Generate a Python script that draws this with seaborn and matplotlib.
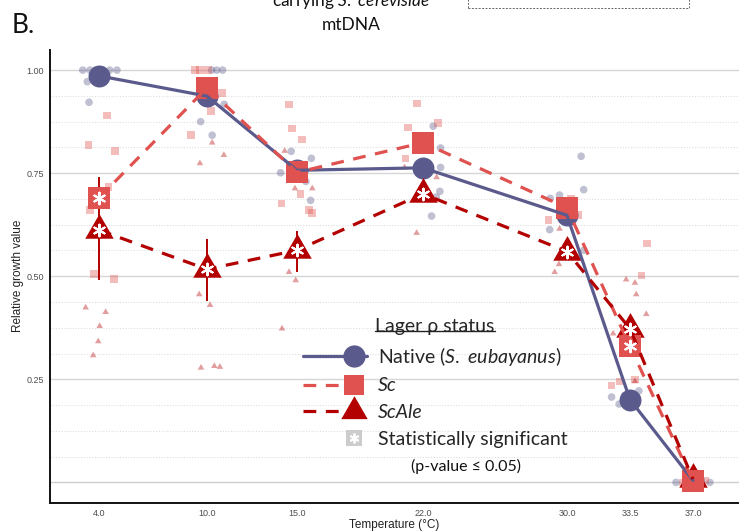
import numpy as np
import pandas as pd
import matplotlib
matplotlib.use("Agg")
import matplotlib.pyplot as plt
import seaborn as sns
from matplotlib.lines import Line2D
from matplotlib.patches import Rectangle
from matplotlib.legend_handler import HandlerLine2D

# ---------------- data ----------------
temps = [4.0, 10.0, 15.0, 22.0, 30.0, 33.5, 37.0]
tick_labels = ["4.0", "10.0", "15.0", "22.0", "30.0", "33.5", "37.0"]
y_ticks = [0.25, 0.50, 0.75, 1.00]
y_tick_labels = ["0.25", "0.50", "0.75", "1.00"]

native_mean = [0.986, 0.937, 0.757, 0.763, 0.648, 0.201, 0.005]
sc_mean = [0.690, 0.957, 0.752, 0.824, 0.666, 0.330, 0.003]
scale_mean = [0.612, 0.517, 0.563, 0.700, 0.560, 0.373, 0.008]
sc_sig = [True, False, False, False, False, True, False]
scale_sig = [True, True, True, True, True, True, False]
scale_err_lo = [0.49, 0.44, 0.51, 0.68, 0.545, 0.35, 0.0]
scale_err_hi = [0.74, 0.59, 0.61, 0.72, 0.575, 0.40, 0.015]

native_pts_x = [3.1, 3.5, 3.8, 4.2, 4.6, 5.0, 3.35, 3.45,
                10.26, 10.54, 10.87, 10.96, 9.65, 10.29,
                14.68, 15.8, 14.09, 15.76, 15.5,
                22.57, 22.98, 22.98, 22.94, 22.74, 22.48,
                30.79, 30.93, 29.59, 29.07, 29.04, 30.94,
                32.48, 34.0, 33.85, 33.2, 32.9,
                36.06, 37.94, 36.6, 37.4]
native_pts_y = [1.0, 1.0, 1.0, 1.0, 1.0, 1.0, 0.972, 0.922,
                1.0, 1.0, 1.0, 0.917, 0.875, 0.842,
                0.803, 0.786, 0.751, 0.684, 0.73,
                0.864, 0.811, 0.764, 0.706, 0.692, 0.646,
                0.791, 0.71, 0.697, 0.689, 0.613, 0.563,
                0.207, 0.222, 0.198, 0.21, 0.19,
                0.0, 0.0, 0.003, 0.0]
sc_pts_x = [4.43, 3.41, 4.89, 4.52, 3.5, 3.72, 4.85,
            9.33, 9.61, 10.07, 10.85, 10.22, 9.11,
            14.57, 14.74, 15.28, 14.15, 15.2, 15.67, 15.85,
            21.68, 21.17, 22.83, 21.04,
            28.98, 30.24, 30.61,
            34.46, 34.15, 32.48, 32.93, 33.78,
            36.44, 37.39, 37.67]
sc_pts_y = [0.89, 0.818, 0.804, 0.717, 0.66, 0.505, 0.493,
            1.0, 1.0, 1.0, 0.945, 0.901, 0.842,
            0.917, 0.858, 0.832, 0.676, 0.699, 0.66, 0.653,
            0.919, 0.861, 0.871, 0.786,
            0.636, 0.689, 0.648,
            0.579, 0.502, 0.235, 0.245, 0.25,
            0.0, 0.0, 0.005]
scale_pts_x = [3.26, 4.37, 4.04, 3.96, 3.68,
               10.29, 9.61, 10.94, 9.57, 10.17, 9.67, 10.41, 10.72,
               14.32, 14.89, 15.85, 14.17, 14.56, 14.93,
               22.76, 20.98, 21.65,
               29.59, 29.56, 29.32,
               33.29, 33.78, 33.85, 34.41, 32.57, 33.78,
               37.0, 37.33]
scale_pts_y = [0.424, 0.413, 0.379, 0.342, 0.308,
               0.824, 0.774, 0.794, 0.456, 0.43, 0.278, 0.282, 0.28,
               0.804, 0.713, 0.713, 0.373, 0.51, 0.49,
               0.74, 0.764, 0.605,
               0.615, 0.529, 0.51,
               0.492, 0.484, 0.456, 0.408, 0.361, 0.245,
               0.01, 0.02]

# ---------------- style ----------------
NATIVE_C = "#5b5a8c"
SC_C = "#e0524f"
SCALE_C = "#b30000"
TRI = [(0, 0.577), (-0.5, -0.289), (0.5, -0.289)]
DASH = (0, (4, 3))

sns.set_theme(style="white")
plt.rcParams["font.family"] = ["Lato", "DejaVu Sans"]
plt.rcParams["mathtext.fontset"] = "custom"
plt.rcParams["mathtext.it"] = "Lato:italic"
plt.rcParams["mathtext.rm"] = "Lato"

fig = plt.figure(figsize=(7.39, 5.31), dpi=100)
ax = fig.add_axes([50 / 739, 28 / 531, 689 / 739, 453.5 / 531])
ax.set_xlim(1.28, 39.56)
ax.set_ylim(-0.05, 1.05)

# grid
ax.set_yticks(y_ticks)
ax.set_yticklabels(y_tick_labels)
ax.set_yticks(np.arange(0, 1.01, 0.0625), minor=True)
ax.yaxis.grid(True, which="minor", color="#dedede", lw=0.8, ls=(0, (1, 1.5)), zorder=0)
ax.yaxis.grid(True, which="major", color="#d6d6d6", lw=1.0, zorder=0)
ax.axhline(0, color="#c8c8c8", lw=1.0, zorder=0)
ax.set_axisbelow(True)
ax.tick_params(axis="y", which="minor", length=0)

ax.set_xticks(temps)
ax.set_xticklabels(tick_labels)

tick_family = ["Liberation Sans", "DejaVu Sans"]
for lab in ax.get_xticklabels() + ax.get_yticklabels():
    lab.set_fontfamily(tick_family)
    lab.set_fontsize(6.5)
    lab.set_color("#4d4d4d")
ax.tick_params(axis="both", which="major", length=3, width=0.8, color="#333333", pad=1.5)

for s in ["top", "right"]:
    ax.spines[s].set_visible(False)
for s in ["left", "bottom"]:
    ax.spines[s].set_color("#111111")
    ax.spines[s].set_linewidth(1.4)

# individual points
pts = pd.DataFrame({
    "temp": native_pts_x + sc_pts_x + scale_pts_x,
    "value": native_pts_y + sc_pts_y + scale_pts_y,
    "status": ["Native"] * len(native_pts_x) + ["Sc"] * len(sc_pts_x) + ["ScAle"] * len(scale_pts_x),
})
sns.scatterplot(data=pts, x="temp", y="value", hue="status", style="status",
                palette={"Native": NATIVE_C, "Sc": SC_C, "ScAle": SCALE_C},
                markers={"Native": "o", "Sc": "s", "ScAle": TRI},
                s=30, alpha=0.38, linewidth=0, legend=False, ax=ax, zorder=1)

# error bars
ax.vlines(temps, scale_err_lo, scale_err_hi, color=SCALE_C, lw=1.4, zorder=2)

# mean markers
sns.scatterplot(x=temps, y=native_mean, color=NATIVE_C, marker="o", s=250, linewidth=0, ax=ax, zorder=3, legend=False)
sns.scatterplot(x=temps, y=scale_mean, color=SCALE_C, marker=TRI, s=560, linewidth=0, ax=ax, zorder=3.1, legend=False)
sns.scatterplot(x=temps, y=sc_mean, color=SC_C, marker="s", s=240, linewidth=0, ax=ax, zorder=3.2, legend=False)

# mean lines
sns.lineplot(x=temps, y=native_mean, color=NATIVE_C, lw=2.3, errorbar=None, ax=ax, zorder=4, legend=False)
sns.lineplot(x=temps, y=sc_mean, color=SC_C, lw=2.3, linestyle=DASH, errorbar=None, ax=ax, zorder=4.1, legend=False)
sns.lineplot(x=temps, y=scale_mean, color=SCALE_C, lw=2.3, linestyle=DASH, errorbar=None, ax=ax, zorder=4.2, legend=False)

# significance asterisks
sig_x = [t for t, s in zip(temps, sc_sig) if s] + [t for t, s in zip(temps, scale_sig) if s]
sig_y = [v for v, s in zip(sc_mean, sc_sig) if s] + [v for v, s in zip(scale_mean, scale_sig) if s]
sns.scatterplot(x=sig_x, y=sig_y, marker=(6, 2, 0), s=70, edgecolor="white", color="white",
                linewidth=1.5, ax=ax, zorder=5, legend=False)

ax.set_xlabel("Temperature (°C)", fontsize=8.5, family=tick_family, labelpad=0.5, color="#222222")
ax.set_ylabel("Relative growth value", fontsize=8.5, family=tick_family, labelpad=1.5, color="#222222")


# legend
class EndMarkerHandler(HandlerLine2D):
    def create_artists(self, legend, orig_handle, xdescent, ydescent, width, height, fontsize, trans):
        y = height / 2 - ydescent
        line = Line2D([-xdescent, width - xdescent], [y, y])
        self.update_prop(line, orig_handle, legend)
        line.set_marker("None")
        mk = Line2D([-xdescent + 0.8 * width], [y])
        self.update_prop(mk, orig_handle, legend)
        mk.set_linestyle("None")
        line.set_transform(trans)
        mk.set_transform(trans)
        return [line, mk]


h_native = Line2D([], [], color=NATIVE_C, lw=2.3, marker="o", ms=16, mew=0)
h_sc = Line2D([], [], color=SC_C, lw=2.3, ls=DASH, marker="s", ms=15, mew=0)
h_scale = Line2D([], [], color=SCALE_C, lw=2.3, ls=DASH, marker=TRI, ms=22, mew=0)
h_sig = (Line2D([], [], ls="none", marker="s", ms=12, color="#cccccc", mew=0),
         Line2D([], [], ls="none", marker=(6, 2, 0), ms=7, mec="white", mew=1.4))
leg = ax.legend([h_native, h_sc, h_scale, h_sig],
                ["Native ($\\mathit{S.}$ $\\mathit{eubayanus}$)", "Sc", "ScAle", "Statistically significant"],
                handler_map={Line2D: EndMarkerHandler()},
                title="Lager ρ status", loc="upper left", bbox_to_anchor=(0.367, 0.408),
                frameon=False, fontsize=14, title_fontsize=14, handlelength=3.3,
                handletextpad=0.55, labelspacing=0.5, borderpad=0, borderaxespad=0)
leg.set_zorder(10)
leg.get_texts()[1].set_fontstyle("italic")
leg.get_texts()[2].set_fontstyle("italic")
ax.text(0.604, 0.081, "(p-value ≤ 0.05)", transform=ax.transAxes, ha="center", va="center",
        fontsize=11.5, color="#111111")

# header texts
fig.text(12 / 739, 1 - 33 / 531, "B.", fontsize=19, va="baseline", color="#111111")
fig.text(351 / 739, 1 - 30.5 / 531, "mtDNA", fontsize=12.5, ha="center", va="baseline", color="#111111")
fig.text(351 / 739, 1 - 6 / 531, "carrying $\\mathit{S.}$ $\\mathit{cerevisiae}$", fontsize=12.5, ha="center",
         va="baseline", color="#111111")
fig.add_artist(Rectangle((468 / 739, 1 - 7.5 / 531), (689 - 468) / 739, 0.1, transform=fig.transFigure,
                         fill=False, ls=(0, (2, 1.5)), lw=0.7, ec="#666666"))

# underline legend title
fig.canvas.draw()
renderer = fig.canvas.get_renderer()
bb = leg.get_title().get_window_extent(renderer)
fig.add_artist(Line2D([bb.x0, bb.x1], [bb.y0 + 0.22 * bb.height] * 2, transform=None,
                      color="#222222", lw=1.0))

fig.savefig("out.png", dpi=100)
